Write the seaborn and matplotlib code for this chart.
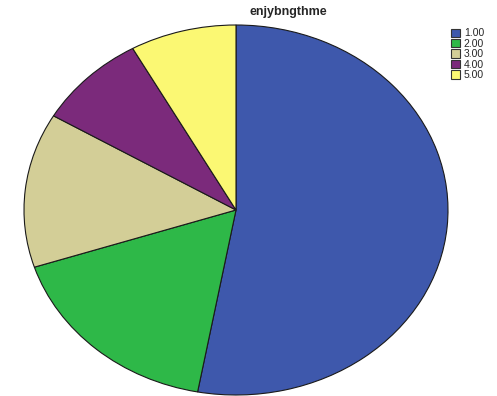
import matplotlib
matplotlib.use("Agg")
import matplotlib.pyplot as plt
from matplotlib.patches import Patch
import seaborn as sns

# Share of respondents per answer category
categories = ["1.00", "2.00", "3.00", "4.00", "5.00"]
shares = [52.9, 17.1, 13.5, 8.4, 8.1]
title = "enjybngthme"

sns.set_theme(style="white")
plt.rcParams["font.family"] = ["Liberation Sans", "DejaVu Sans"]
palette = sns.color_palette(["#3E58AC", "#2EB848", "#D3CE97", "#7B2A7B", "#FBF873"])

fig = plt.figure(figsize=(4.97, 3.96), dpi=100)
ax = fig.add_axes([24 / 497, 1 / 396, 424 / 497, 370 / 396])
ax.pie(shares, colors=palette, startangle=90, counterclock=False,
       wedgeprops=dict(edgecolor="#1a1a1a", linewidth=0.8))
ax.set_aspect("auto")
ax.set_xlim(-1.0, 1.0)
ax.set_ylim(-1.0, 1.0)
ax.axis("off")

fig.text(288 / 497, 1 - 12 / 396, title, ha="center", va="center",
         fontsize=9, fontweight="bold")

handles = [Patch(facecolor=c, edgecolor="#333333", linewidth=0.8) for c in palette]
fig.legend(handles, categories, loc="upper left",
           bbox_to_anchor=(444 / 497, 1 - 21 / 396), frameon=False,
           fontsize=7.5, handlelength=0.85, handleheight=0.85, handletextpad=0.35,
           labelspacing=0.04, borderpad=0.2)

fig.savefig("out.png", dpi=100)
